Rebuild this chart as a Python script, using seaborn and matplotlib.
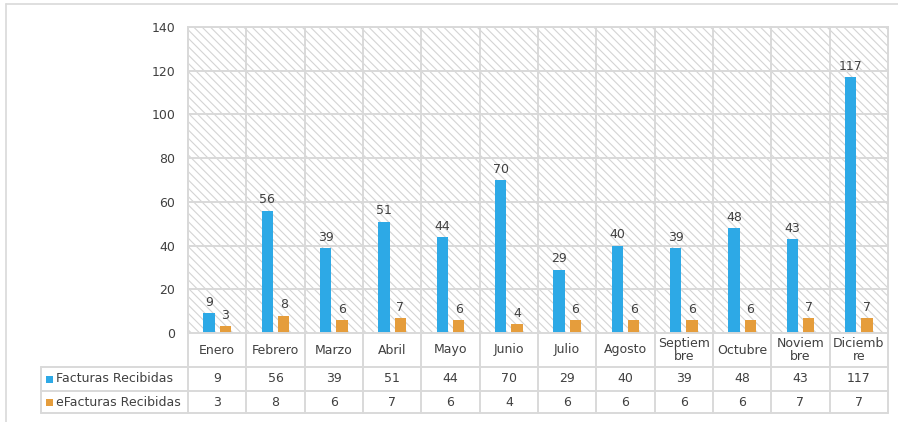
import matplotlib
matplotlib.use("Agg")
import matplotlib.pyplot as plt
import matplotlib.transforms as mtransforms
from matplotlib.patches import Rectangle
from matplotlib.lines import Line2D
import pandas as pd
import seaborn as sns

# --- data -------------------------------------------------------------
months = ["Enero", "Febrero", "Marzo", "Abril", "Mayo", "Junio", "Julio",
          "Agosto", "Septiembre", "Octubre", "Noviembre", "Diciembre"]
month_labels = ["Enero", "Febrero", "Marzo", "Abril", "Mayo", "Junio", "Julio",
                "Agosto", "Septiem\nbre", "Octubre", "Noviem\nbre", "Diciemb\nre"]
series_names = ["Facturas Recibidas", "eFacturas Recibidas"]
facturas = [9, 56, 39, 51, 44, 70, 29, 40, 39, 48, 43, 117]
efacturas = [3, 8, 6, 7, 6, 4, 6, 6, 6, 6, 7, 7]
y_ticks = [0, 20, 40, 60, 80, 100, 120, 140]

colors = ["#2DA9E6", "#E59D3C"]
grid_c = "#D9D9D9"
text_c = "#404040"
fs = 9

df = pd.DataFrame({
    "mes": months * 2,
    "serie": [series_names[0]] * len(months) + [series_names[1]] * len(months),
    "valor": facturas + efacturas,
})

sns.set_theme(style="white")
plt.rcParams["font.family"] = ["DejaVu Sans"]
plt.rcParams["hatch.linewidth"] = 0.8
plt.rcParams["hatch.color"] = "#D4D4D4"

W, H = 898, 422
fig = plt.figure(figsize=(W / 100, H / 100), dpi=100)
fig.patch.set_facecolor("white")


def fx(px):
    return px / W


def fy(py):
    return 1 - py / H


ax = fig.add_axes([fx(188), fy(333), fx(888) - fx(188), fy(27) - fy(333)])

# hatched plot background
ax.add_patch(Rectangle((0, 0), 1, 1, transform=ax.transAxes, facecolor="white",
                       edgecolor="#D4D4D4", hatch="\\\\\\\\", linewidth=0, zorder=0))

sns.barplot(data=df, x="mes", y="valor", hue="serie", hue_order=series_names,
            palette=colors, width=0.56, gap=0.29, saturation=1, legend=False,
            linewidth=0, ax=ax, zorder=3)

for cont in ax.containers:
    ax.bar_label(cont, padding=3, fontsize=fs, color=text_c)

n = len(months)
ax.set_xlim(-0.5, n - 0.5)
ax.set_ylim(0, 140)
ax.set_yticks(y_ticks)
ax.tick_params(axis="y", length=0, pad=9, labelsize=fs, labelcolor=text_c)
ax.set_xticks([])
ax.set_xlabel("")
ax.set_ylabel("")
for t in y_ticks[1:]:
    ax.axhline(t, color=grid_c, lw=1.4, zorder=1)
for sp in ax.spines.values():
    sp.set_color(grid_c)
    sp.set_linewidth(1.4)
    sp.set_zorder(4)

# --- data table below the plot ----------------------------------------
blend = mtransforms.blended_transform_factory(ax.transData, fig.transFigure)
row_cat = (333, 367)
row_1 = (367, 391)
row_2 = (391, 413)

# vertical separators across plot area and table
for b in range(n + 1):
    xb = b - 0.5
    ax.add_line(Line2D([xb, xb], [fy(27), fy(413)], transform=blend,
                       color=grid_c, lw=1.4, clip_on=False, zorder=1))
# horizontal lines of the table
for yy in (row_1[0], row_2[0], row_2[1]):
    fig.add_artist(Line2D([fx(41), fx(888)], [fy(yy), fy(yy)], color=grid_c, lw=1.4))
fig.add_artist(Line2D([fx(41), fx(41)], [fy(row_1[0]), fy(row_2[1])], color=grid_c, lw=1.4))

for i, lab in enumerate(month_labels):
    ax.text(i, fy(sum(row_cat) / 2), lab, transform=blend, ha="center", va="center",
            fontsize=fs, color=text_c, linespacing=1.0, clip_on=False)
    ax.text(i, fy(sum(row_1) / 2), str(facturas[i]), transform=blend, ha="center",
            va="center", fontsize=fs, color=text_c, clip_on=False)
    ax.text(i, fy(sum(row_2) / 2), str(efacturas[i]), transform=blend, ha="center",
            va="center", fontsize=fs, color=text_c, clip_on=False)

# legend keys in the first table column
for (r0, r1), name, c in zip((row_1, row_2), series_names, colors):
    yc = (r0 + r1) / 2
    fig.add_artist(Rectangle((fx(46), fy(yc + 3.5)), fx(7), fy(0) - fy(7),
                             facecolor=c, edgecolor="none"))
    fig.text(fx(56), fy(yc), name, ha="left", va="center", fontsize=fs, color=text_c)

# outer chart frame
fig.add_artist(Line2D([fx(6), fx(898)], [fy(4), fy(4)], color=grid_c, lw=1.2))
fig.add_artist(Line2D([fx(6), fx(6)], [fy(4), fy(422)], color=grid_c, lw=1.2))

fig.savefig("out.png", dpi=100, facecolor="white")
